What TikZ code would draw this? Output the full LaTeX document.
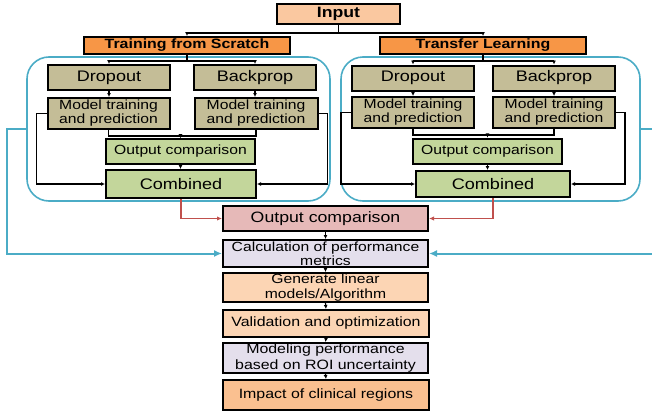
\documentclass[tikz,border=0pt]{standalone}
\usepackage{fontspec}
\setmainfont{Liberation Sans}[FakeStretch=1.18]
\usetikzlibrary{arrows.meta}
\definecolor{cinput}{HTML}{FAC8A0}
\definecolor{corange}{HTML}{F79646}
\definecolor{ckhaki}{HTML}{C4BD97}
\definecolor{cgreen}{HTML}{C3D69B}
\definecolor{cpink}{HTML}{E6B9B8}
\definecolor{clav}{HTML}{E4DFEC}
\definecolor{cpeach}{HTML}{FCD5B4}
\definecolor{cimpact}{HTML}{FAC090}
\definecolor{cblue}{HTML}{4BACC6}
\definecolor{cred}{HTML}{C0504D}
\begin{document}
\begin{tikzpicture}[x=1pt,y=-1pt,
  box/.style={draw=black, line width=2pt, inner sep=0pt, align=center},
  grp/.style={draw=cblue, line width=1.6pt, rounded corners=22pt, inner sep=0pt},
  ar/.style={-{Latex[length=4pt,width=4pt]}, line width=1.2pt},
  redar/.style={-{Latex[length=5pt,width=4.5pt]}, line width=1.5pt, draw=cred},
  bluear/.style={-{Latex[length=8pt,width=7pt]}, line width=2pt, draw=cblue},
  fbig/.style={font=\fontsize{15.3}{17}\selectfont},
  fmid/.style={font=\fontsize{13.3}{14}\selectfont},
  ]
\useasboundingbox (0,0) rectangle (652,415);

% groups
\node[grp, minimum width=303pt, minimum height=144pt] (g1) at (178.5,129) {};
\node[grp, minimum width=299pt, minimum height=144pt] (g2) at (490.5,129) {};

% top
\node[box, fill=cinput, minimum width=123pt, minimum height=20pt, font=\bfseries\fontsize{15}{16}\selectfont] (in) at (338.5,14) {Input};
\node[box, fill=corange, minimum width=206pt, minimum height=17pt, font=\bfseries\fontsize{13.5}{14}\selectfont] (t1) at (187,45.5) {Training from Scratch};
\node[box, fill=corange, minimum width=206pt, minimum height=17pt, font=\bfseries\fontsize{13.5}{14}\selectfont] (t2) at (483,45.5) {Transfer Learning};

% left group
\node[box, fill=ckhaki, fbig, minimum width=122pt, minimum height=25pt] (d1) at (109,77.5) {Dropout};
\node[box, fill=ckhaki, fbig, minimum width=122pt, minimum height=25pt] (b1) at (255,77.5) {Backprop};
\node[box, fill=ckhaki, fmid, minimum width=122pt, minimum height=31pt] (m1) at (108.5,113.5) {Model training\\and prediction};
\node[box, fill=ckhaki, fmid, minimum width=123pt, minimum height=31pt] (n1) at (256,113.5) {Model training\\and prediction};
\node[box, fill=cgreen, fmid, minimum width=149pt, minimum height=25pt] (o1) at (180.5,151.5) {Output comparison};
\node[box, fill=cgreen, fbig, minimum width=150pt, minimum height=28pt] (c1) at (181,184) {Combined};

% right group
\node[box, fill=ckhaki, fbig, minimum width=122pt, minimum height=25pt] (d2) at (413,78) {Dropout};
\node[box, fill=ckhaki, fbig, minimum width=122pt, minimum height=25pt] (b2) at (554,78) {Backprop};
\node[box, fill=ckhaki, fmid, minimum width=122pt, minimum height=31pt] (m2) at (413,112.5) {Model training\\and prediction};
\node[box, fill=ckhaki, fmid, minimum width=122pt, minimum height=31pt] (n2) at (554,112.5) {Model training\\and prediction};
\node[box, fill=cgreen, fmid, minimum width=149pt, minimum height=25pt] (o2) at (487.5,151) {Output comparison};
\node[box, fill=cgreen, fbig, minimum width=154pt, minimum height=26pt] (c2) at (493,184) {Combined};

% central column
\node[box, fill=cpink, font=\fontsize{15}{16}\selectfont, minimum width=205pt, minimum height=25pt] (oc) at (325.5,218.5) {Output comparison};
\node[box, fill=clav, font=\fontsize{13.3}{13.5}\selectfont, minimum width=205pt, minimum height=27pt] (calc) at (325.5,253.5) {Calculation of performance\\metrics};
\node[box, fill=cpeach, font=\fontsize{13.3}{14.5}\selectfont, minimum width=205pt, minimum height=29pt] (gen) at (325.5,287.5) {Generate linear\\models/Algorithm};
\node[box, fill=cpeach, font=\fontsize{13.5}{15}\selectfont, minimum width=206pt, minimum height=27pt] (val) at (326,323.5) {Validation and optimization};
\node[box, fill=clav, font=\fontsize{13.5}{15.5}\selectfont, minimum width=205pt, minimum height=30pt] (mod) at (325.5,358) {Modeling performance\\based on ROI uncertainty};
\node[box, fill=cimpact, font=\fontsize{13.5}{15}\selectfont, minimum width=206pt, minimum height=30pt] (imp) at (326,395) {Impact of clinical regions};

% top connectors
\draw[ar] (in.south) -- ++(0,8) -| (t1.north);
\draw[ar] (in.south) -- ++(0,8) -| (t2.north);

% left group connectors
\draw[ar] (t1.south) -- ++(0,6) -| (d1.north);
\draw[ar] (t1.south) -- ++(0,6) -| (b1.north);
\draw[ar] (d1.south) -- (d1.south |- m1.north);
\draw[ar] (b1.south) -- (b1.south |- n1.north);
\draw[ar] (m1.south) -- ++(0,6) -| (o1.north);
\draw[ar] (n1.south) -- ++(0,6) -| (o1.north);
\draw[ar] (o1.south) -- (o1.south |- c1.north);
\draw[ar] (m1.west) -- ++(-10,0) |- (c1.west);
\draw[ar] (n1.east) -- ++(9,0) |- (c1.east);

% right group connectors
\draw[ar] (t2.south) -- ++(0,6) -| (d2.north);
\draw[ar] (t2.south) -- ++(0,6) -| (b2.north);
\draw[ar] (d2.south) -- (d2.south |- m2.north);
\draw[ar] (b2.south) -- (b2.south |- n2.north);
\draw[ar] (m2.south) -- ++(0,6) -| (o2.north);
\draw[ar] (n2.south) -- ++(0,6) -| (o2.north);
\draw[ar] (o2.south) -- (o2.south |- c2.north);
\draw[ar] (m2.west) -- ++(-10,0) |- (c2.west);
\draw[ar] (n2.east) -- ++(9,0) |- (c2.east);

% red connectors
\draw[redar] (c1.south) |- (oc.west);
\draw[redar] (c2.south) |- (oc.east);

% blue connectors
\draw[bluear] (g1.west) -- ++(-19,0) |- (calc.west);
\draw[bluear] (g2.east) -- ++(16,0) |- (calc.east);

% central arrows
\draw[ar] (oc.south) -- (calc.north);
\draw[ar] (calc.south) -- (gen.north);
\draw[ar] (gen.south) -- (val.north);
\draw[ar] (val.south) -- (mod.north);
\draw[ar] (mod.south) -- (imp.north);
\end{tikzpicture}
\end{document}
